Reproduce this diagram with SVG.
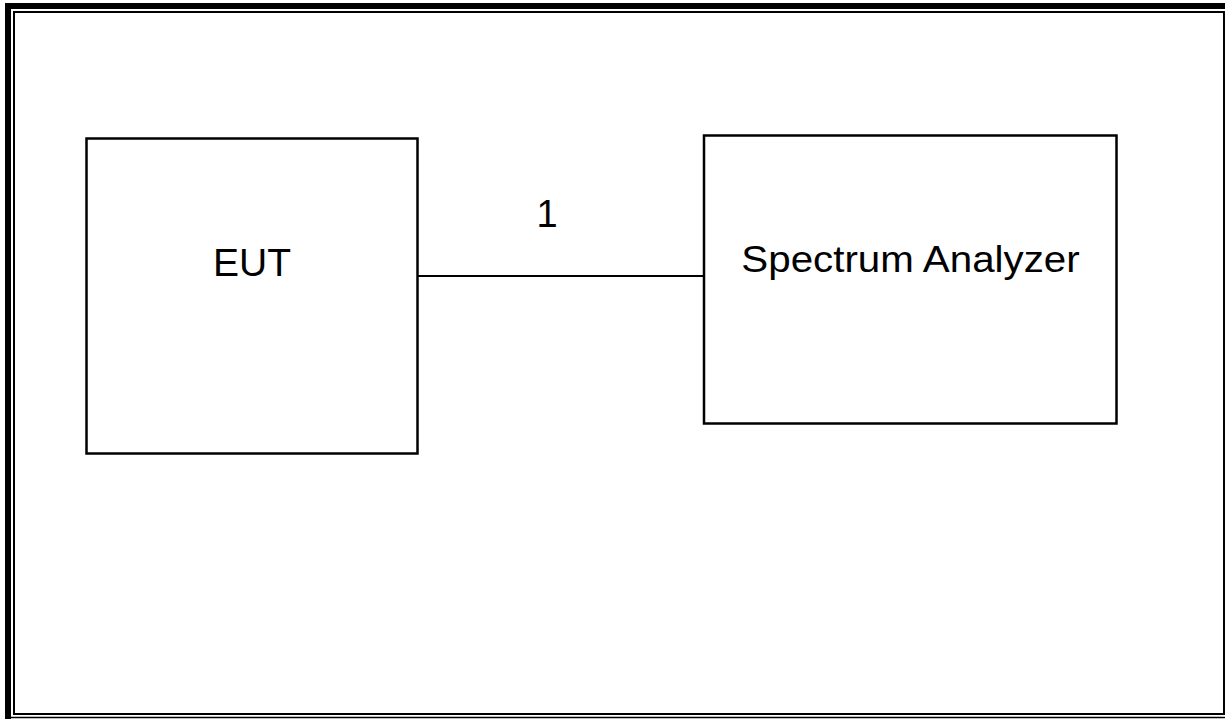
<svg xmlns="http://www.w3.org/2000/svg" width="1225" height="719" viewBox="0 0 1225 719">
<style>
.box{fill:#fff;stroke:#000;stroke-width:2.5}
.lbl{font-family:"Liberation Sans",Arial,sans-serif;fill:#000;text-anchor:middle}
.wire{stroke:#000;stroke-width:2;fill:none}
</style>
<rect x="0" y="0" width="1225" height="719" fill="#fff"/>
<g id="frame">
<rect x="5" y="3" width="1220" height="6" fill="#000"/>
<rect x="5" y="3" width="6" height="716" fill="#000"/>
<rect x="14" y="12" width="1210" height="702" fill="none" stroke="#000" stroke-width="2"/>
<line x1="11" y1="717.5" x2="1225" y2="717.5" stroke="#000" stroke-width="1.5"/>
</g>
<g id="connectors">
<line class="wire" x1="418" y1="276" x2="704" y2="276"/>
<text class="lbl" x="547" y="227" font-size="38">1</text>
</g>
<g id="eut">
<rect class="box" x="86.5" y="138.5" width="331" height="315"/>
<text class="lbl" x="252" y="276" font-size="39">EUT</text>
</g>
<g id="spectrum-analyzer">
<rect class="box" x="704" y="135.5" width="412.5" height="288"/>
<text class="lbl" transform="translate(910.5 272) scale(1.09 1)" x="0" y="0" font-size="37">Spectrum Analyzer</text>
</g>
</svg>
